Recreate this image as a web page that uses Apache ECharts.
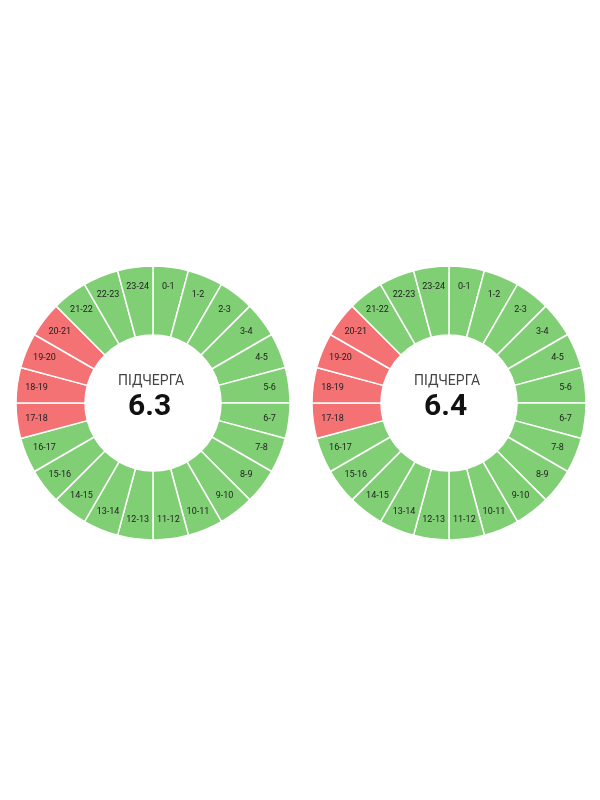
<!DOCTYPE html>
<html>
<head>
<meta charset="utf-8">
<script src="https://cdn.jsdelivr.net/npm/echarts@6/dist/echarts.min.js"></script>
<style>html,body{margin:0;background:#fff}#main{width:600px;height:800px}</style>
</head>
<body>
<div id="main"></div>
<script>
// години доби
var hours = [];
for (var h = 0; h < 24; h++) hours.push(h + '-' + (h + 1));
// стан для кожної години: 1 = є світло, 0 = відключення
var stateLeft  = [1,1,1,1,1,1,1,1,1,1,1,1,1,1,1,1,1,0,0,0,0,1,1,1];
var stateRight = [1,1,1,1,1,1,1,1,1,1,1,1,1,1,1,1,1,0,0,0,0,1,1,1];
var queues = ['6.3', '6.4'];
var centers = [[153, 403], [449, 403]];

var GREEN = '#80cf75', RED = '#f47174';

function ring(state, center) {
    return [{
        type: 'pie', center: center, radius: [68, 137], startAngle: 90,
        silent: true, animation: false,
        itemStyle: { borderColor: '#fff', borderWidth: 1.5 },
        label: { show: false }, labelLine: { show: false },
        data: hours.map(function (n, i) {
            return { name: n, value: 1, itemStyle: { color: state[i] ? GREEN : RED } };
        })
    }, {
        type: 'pie', center: center, radius: [92, 137], startAngle: 90,
        silent: true, animation: false,
        itemStyle: { color: 'transparent' },
        label: { show: true, position: 'inside', color: '#222', fontSize: 9, fontFamily: 'Roboto' },
        labelLine: { show: false },
        data: hours.map(function (n) { return { name: n, value: 1 }; })
    }];
}

var series = [];
var graphic = [];
queues.forEach(function (q, k) {
    series = series.concat(ring(k ? stateRight : stateLeft, centers[k]));
    graphic.push({ type: 'text', left: centers[k][0] - 35, top: 374,
        style: { text: 'ПІДЧЕРГА', fill: '#444', fontSize: 14, fontFamily: 'Roboto', width: 70, align: 'center' } });
    graphic.push({ type: 'text', left: centers[k][0] - 25, top: 392,
        style: { text: q, fill: '#111', fontSize: 30, fontWeight: 'bold', fontFamily: 'Roboto' } });
});

var myChart = echarts.init(document.getElementById('main'));
myChart.setOption({ animation: false, series: series, graphic: graphic });
</script>
</body>
</html>
